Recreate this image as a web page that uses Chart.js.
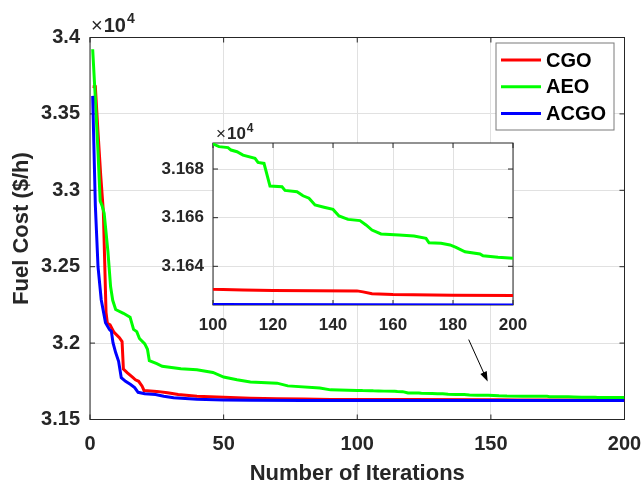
<!DOCTYPE html>
<html>
<head>
<meta charset="utf-8">
<script src="https://cdn.jsdelivr.net/npm/chart.js@4.4.0/dist/chart.umd.min.js"></script>
<style>
  html, body { margin: 0; padding: 0; background: #fff; }
  #wrap { position: relative; width: 644px; height: 483px; }
  #mainChart { position: absolute; left: 0; top: 0; }
  #insetChart { position: absolute; left: 150px; top: 115px; }
</style>
</head>
<body>
<div id="wrap">
  <canvas id="mainChart" width="644" height="483"></canvas>
  <canvas id="insetChart" width="385" height="225"></canvas>
</div>
<script>
// Convergence data (fuel cost in $/h)
const cgoIter = [1, 2, 3, 4, 5, 6, 6.5, 7.5, 9, 11, 12, 12.5, 14, 16, 17, 18.2, 19.5, 20.2, 25, 29, 33, 40, 50, 60, 70, 80, 90, 100, 110, 120, 148, 150, 153, 160, 180, 200];
const cgoCost = [33680, 33678, 33380, 33100, 32860, 32200, 32130, 32120, 32070, 32035, 32010, 31830, 31805, 31775, 31760, 31750, 31718, 31690, 31684, 31675, 31663, 31652, 31645, 31639, 31636, 31633.5, 31631.5, 31630.6, 31630.3, 31630.1, 31629.9, 31629.5, 31628.7, 31628.4, 31628.1, 31628.0];

const aeoIter = [1, 2, 3, 3.8, 4.5, 5.3, 6.7, 7.7, 8.5, 9.6, 12.5, 15, 16.3, 17.5, 18.5, 20.5, 21.5, 22.2, 25, 27, 34, 40, 46, 50, 55, 60, 70, 74, 86, 90,
  100, 102, 105, 106, 108, 110, 114, 115, 117, 119, 123, 124, 128, 130, 132, 134, 137, 140, 142, 145, 149, 151, 153, 156, 162, 167, 171, 172, 176, 179, 181, 184, 189, 190, 195, 200];
const aeoCost = [33923, 33600, 33250, 32930, 32900, 32850, 32600, 32370, 32280, 32220, 32195, 32170, 32090, 32075, 32030, 31995, 31960, 31885, 31865, 31848, 31832, 31825, 31808, 31778, 31760, 31745, 31738, 31720, 31706, 31694,
  31690.3, 31689.2, 31688.8, 31687.8, 31687.1, 31685.7, 31684.4, 31682.7, 31682.3, 31673.0, 31672.7, 31671.2, 31670.7, 31669.0, 31668.0, 31665.2, 31664.3, 31663.4, 31660.7, 31659.3, 31658.8, 31657.0, 31654.9, 31653.3, 31652.9, 31652.5, 31651.5, 31649.7, 31649.5, 31648.8, 31647.8, 31646.0, 31645.1, 31644.3, 31643.7, 31643.3];

const acgoIter = [1, 2, 3, 4.2, 5.8, 7.3, 8, 8.6, 9.6, 10.7, 11.7, 13.3, 15.2, 16.7, 18, 20.5, 24.5, 27.6, 31.3, 40, 50, 60, 80, 100, 150, 200];
const acgoCost = [33618, 32900, 32500, 32284, 32134, 32088, 32077, 32003, 31938, 31881, 31774, 31750, 31729, 31709, 31678, 31668, 31663, 31652, 31642, 31633, 31628, 31626, 31624.8, 31624.3, 31624.2, 31624.1];

const seriesNames = ['CGO', 'AEO', 'ACGO'];
const seriesColors = ['#ff0000', '#00ff00', '#0000ff'];

const xTicks = [0, 50, 100, 150, 200];
const yTicks = [31500, 32000, 32500, 33000, 33500, 34000];
const insetXTicks = [100, 120, 140, 160, 180, 200];
const insetYTicks = [31640, 31660, 31680];

// arrow pointing at the zoomed region (data coordinates)
const arrowFrom = [141.7, 32023];
const arrowTo = [148.8, 31748];

const FONT = '"Liberation Sans", Arial, sans-serif';
const TXT = '#262626';
const GRID = '#e1e1e1';

function toPoints(xs, ys) {
  return xs.map((x, i) => ({ x: x, y: ys[i] }));
}

function fmtTick(v) {
  return parseFloat((v / 1e4).toFixed(4)).toString();
}

function makeDatasets(width) {
  const all = [[cgoIter, cgoCost], [aeoIter, aeoCost], [acgoIter, acgoCost]];
  return all.map(([xs, ys], i) => ({
    label: seriesNames[i],
    data: toPoints(xs, ys),
    borderColor: seriesColors[i],
    backgroundColor: seriesColors[i],
    borderWidth: width,
    pointRadius: 0,
    tension: 0,
    fill: false,
    order: 3 - i
  }));
}

// keep the plot box where the layout padding puts it
function fixSize(prop, size) {
  return s => {
    s[prop] = size;
    s.paddingLeft = 0; s.paddingRight = 0;
    s.paddingTop = 0; s.paddingBottom = 0;
  };
}

// MATLAB style box: white plot area, frame, inward ticks, x10^4 exponent
const boxPlugin = {
  id: 'box',
  beforeDraw(chart, args, opts) {
    if (!opts.fill) return;
    const a = chart.chartArea;
    const ctx = chart.ctx;
    ctx.save();
    ctx.fillStyle = opts.fill;
    ctx.fillRect(a.left, a.top, a.right - a.left, a.bottom - a.top);
    ctx.restore();
  },
  beforeDatasetsDraw(chart, args, opts) {
    const { ctx, chartArea: a, scales: { x, y } } = chart;
    const len = opts.tickLen;
    ctx.save();
    ctx.strokeStyle = TXT;
    ctx.lineWidth = 1;
    ctx.strokeRect(a.left, a.top, a.right - a.left, a.bottom - a.top);
    ctx.beginPath();
    x.ticks.forEach(t => {
      const px = x.getPixelForValue(t.value);
      ctx.moveTo(px, a.bottom); ctx.lineTo(px, a.bottom - len);
      ctx.moveTo(px, a.top); ctx.lineTo(px, a.top + len);
    });
    y.ticks.forEach(t => {
      const py = y.getPixelForValue(t.value);
      ctx.moveTo(a.left, py); ctx.lineTo(a.left + len, py);
      ctx.moveTo(a.right, py); ctx.lineTo(a.right - len, py);
    });
    ctx.stroke();

    // exponent label
    const e = opts.exp;
    ctx.fillStyle = TXT;
    ctx.textBaseline = 'alphabetic';
    ctx.textAlign = 'left';
    let cx = a.left + e.dx;
    const base = a.top - e.dy;
    ctx.font = 'normal ' + e.size + 'px ' + FONT;
    ctx.fillText('\u00d7', cx, base);
    cx += ctx.measureText('\u00d7').width + 1;
    ctx.font = 'bold ' + e.size + 'px ' + FONT;
    ctx.fillText('10', cx, base);
    cx += ctx.measureText('10').width + 1;
    ctx.font = 'bold ' + e.supSize + 'px ' + FONT;
    ctx.fillText('4', cx, base - e.supRise);
    ctx.restore();
  }
};

const legendArrowPlugin = {
  id: 'legendArrow',
  afterDraw(chart) {
    const { ctx, chartArea: a, scales: { x, y } } = chart;
    ctx.save();

    // arrow
    const x0 = x.getPixelForValue(arrowFrom[0]), y0 = y.getPixelForValue(arrowFrom[1]);
    const x1 = x.getPixelForValue(arrowTo[0]), y1 = y.getPixelForValue(arrowTo[1]);
    const ang = Math.atan2(y1 - y0, x1 - x0);
    ctx.strokeStyle = '#000';
    ctx.fillStyle = '#000';
    ctx.lineWidth = 1;
    ctx.beginPath();
    ctx.moveTo(x0, y0);
    ctx.lineTo(x1 - 6 * Math.cos(ang), y1 - 6 * Math.sin(ang));
    ctx.stroke();
    ctx.beginPath();
    ctx.moveTo(x1, y1);
    ctx.lineTo(x1 - 10 * Math.cos(ang) + 3.5 * Math.sin(ang), y1 - 10 * Math.sin(ang) - 3.5 * Math.cos(ang));
    ctx.lineTo(x1 - 10 * Math.cos(ang) - 3.5 * Math.sin(ang), y1 - 10 * Math.sin(ang) + 3.5 * Math.cos(ang));
    ctx.closePath();
    ctx.fill();

    // legend
    const bw = 118, bh = 87;
    const bx = a.right - 10.5 - bw, by = a.top + 5.5;
    ctx.fillStyle = '#fff';
    ctx.fillRect(bx, by, bw, bh);
    ctx.strokeStyle = '#7a7a7a';
    ctx.strokeRect(bx, by, bw, bh);
    ctx.font = 'bold 20px ' + FONT;
    ctx.textBaseline = 'middle';
    ctx.textAlign = 'left';
    chart.data.datasets.forEach((ds, i) => {
      const ly = by + 17 + i * 26.7;
      ctx.strokeStyle = ds.borderColor;
      ctx.lineWidth = 3;
      ctx.beginPath();
      ctx.moveTo(bx + 5, ly);
      ctx.lineTo(bx + 45, ly);
      ctx.stroke();
      ctx.fillStyle = '#000';
      ctx.fillText(ds.label, bx + 50, ly + 1);
    });
    ctx.restore();
  }
};

function tickFont(size) {
  return { family: FONT, size: size, weight: 'bold' };
}

// main chart
new Chart(document.getElementById('mainChart').getContext('2d'), {
  type: 'line',
  data: { datasets: makeDatasets(3) },
  options: {
    responsive: false,
    animation: false,
    devicePixelRatio: 1,
    layout: { padding: { top: 37.5, right: 19.5, left: 0, bottom: 0 } },
    plugins: {
      legend: { display: false },
      tooltip: { enabled: false },
      box: { tickLen: 5, exp: { dx: 1, dy: 6, size: 20, supSize: 14, supRise: 9 } }
    },
    scales: {
      x: {
        type: 'linear', min: 0, max: 200,
        afterBuildTicks: s => { s.ticks = xTicks.map(v => ({ value: v })); },
        afterFit: fixSize('height', 63.5),
        grid: { color: GRID, drawTicks: false },
        border: { display: false },
        ticks: { color: TXT, font: tickFont(20), padding: 13, maxRotation: 0 },
        title: { display: true, text: 'Number of Iterations', color: TXT,
          font: { family: FONT, size: 22, weight: 'bold', lineHeight: 0.8 }, padding: 0 }
      },
      y: {
        type: 'linear', min: 31500, max: 34000,
        afterBuildTicks: s => { s.ticks = yTicks.map(v => ({ value: v })); },
        afterFit: fixSize('width', 90),
        grid: { color: GRID, drawTicks: false },
        border: { display: false },
        ticks: { color: TXT, font: tickFont(20), padding: 10, callback: fmtTick },
        title: { display: true, text: 'Fuel Cost ($/h)', color: TXT,
          font: { family: FONT, size: 22, weight: 'bold', lineHeight: 0.9 }, padding: { top: 12.5, bottom: 0 } }
      }
    }
  },
  plugins: [boxPlugin, legendArrowPlugin]
});

// zoomed inset, iterations 100-200
new Chart(document.getElementById('insetChart').getContext('2d'), {
  type: 'line',
  data: { datasets: makeDatasets(3) },
  options: {
    responsive: false,
    animation: false,
    devicePixelRatio: 1,
    layout: { padding: { top: 28, right: 22, left: 0, bottom: 0 } },
    plugins: {
      legend: { display: false },
      tooltip: { enabled: false },
      box: { fill: '#fff', tickLen: 5, exp: { dx: 3, dy: 4, size: 17, supSize: 12, supRise: 7 } }
    },
    scales: {
      x: {
        type: 'linear', min: 100, max: 200,
        afterBuildTicks: s => { s.ticks = insetXTicks.map(v => ({ value: v })); },
        afterFit: fixSize('height', 35),
        grid: { color: GRID, drawTicks: false },
        border: { display: false },
        ticks: { color: TXT, font: tickFont(17), padding: 10, maxRotation: 0 }
      },
      y: {
        type: 'linear', min: 31624.1, max: 31690.7,
        afterBuildTicks: s => { s.ticks = insetYTicks.map(v => ({ value: v })); },
        afterFit: fixSize('width', 63),
        grid: { color: GRID, drawTicks: false },
        border: { display: false },
        ticks: { color: TXT, font: tickFont(17), padding: 9, callback: fmtTick }
      }
    }
  },
  plugins: [boxPlugin]
});
</script>
</body>
</html>
